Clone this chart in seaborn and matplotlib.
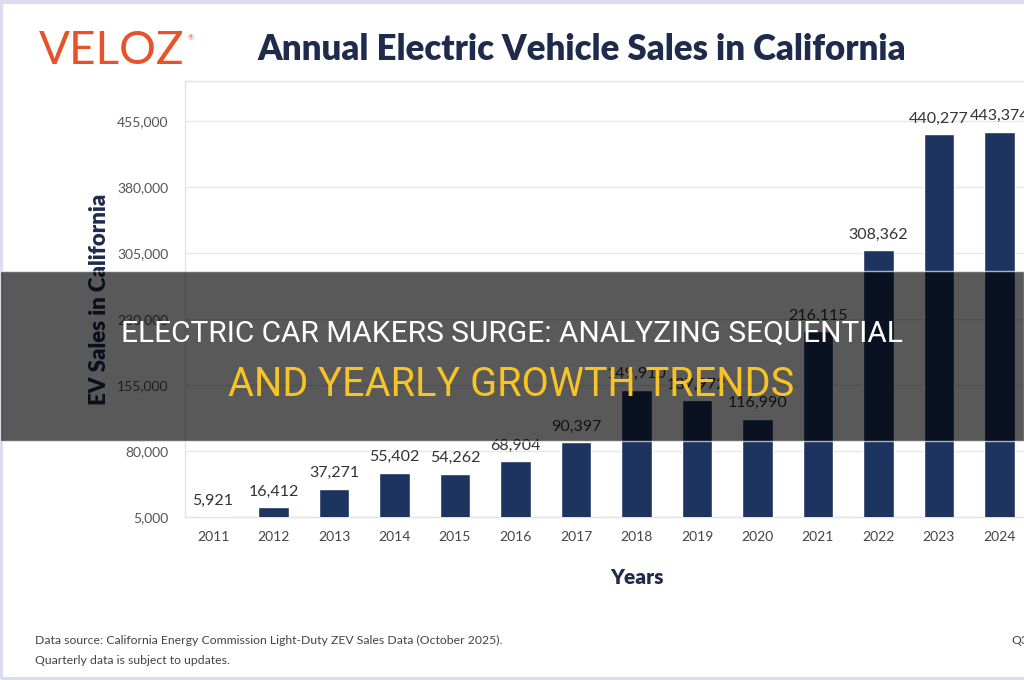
import matplotlib
matplotlib.use("Agg")
import matplotlib.pyplot as plt
from matplotlib.patches import Rectangle
import seaborn as sns

# Annual EV sales in California
years = ["2011", "2012", "2013", "2014", "2015", "2016", "2017",
         "2018", "2019", "2020", "2021", "2022", "2023", "2024"]
sales = [5921, 16412, 37271, 55402, 54262, 68904, 90397,
         149910, 137972, 116990, 216115, 308362, 440277, 443374]
y_ticks = [5000, 80000, 155000, 230000, 305000, 380000, 455000]

navy = "#1e3460"
text_navy = "#1f2b4d"

sns.set_theme(style="white")
plt.rcParams["font.family"] = ["Lato", "DejaVu Sans"]

W, H = 1024, 680
fig = plt.figure(figsize=(W / 100, H / 100), dpi=100)
fig.patch.set_facecolor("white")

# Plot area
ax_left, ax_top, ax_bottom, ax_right = 185, 81, 517, 1075
ax = fig.add_axes([ax_left / W, 1 - ax_bottom / H,
                   (ax_right - ax_left) / W, (ax_bottom - ax_top) / H])
sns.barplot(x=years, y=sales, color=navy, width=0.5, saturation=1, ax=ax, zorder=3)

ax.set_ylim(5000, 501000)
ax.set_xlim(-0.463, 14.25)
ax.set_yticks(y_ticks)
ax.set_yticklabels([f"{v:,}" for v in y_ticks])
ax.yaxis.grid(True, color="#e6e6ee", lw=1, zorder=0)
ax.set_axisbelow(True)
ax.tick_params(axis="y", length=0, pad=12, labelsize=10, labelcolor="#555555")
ax.tick_params(axis="x", length=0, pad=10, labelsize=10, labelcolor="#444444")
ax.set_xlabel("")
ax.set_ylabel("")
for side, sp in ax.spines.items():
    sp.set_color("#e2e2ea")
    sp.set_linewidth(1)

ax.bar_label(ax.containers[0], labels=[f"{v:,}" for v in sales],
             padding=6, fontsize=11.5, color="#333333")

# Axis titles
fig.text(100 / W, 1 - 299 / H, "EV Sales in California", rotation=90,
         ha="center", va="center", fontsize=16, fontweight="heavy", color=text_navy)
fig.text(637 / W, 1 - 578 / H, "Years", ha="center", va="center",
         fontsize=15, fontweight="heavy", color=text_navy)

# Header
fig.text(582 / W, 1 - 50 / H, "Annual Electric Vehicle Sales in California",
         ha="center", va="center", fontsize=25, fontweight="heavy", color=text_navy)
fig.text(39 / W, 1 - 51 / H, "VELOZ", ha="left", va="center",
         fontsize=33, color="#e8522b")
fig.text(188 / W, 1 - 38 / H, "®", ha="left", va="center",
         fontsize=5, color="#e8522b")

# Footer
fig.text(35 / W, 1 - 640 / H,
         "Data source: California Energy Commission Light-Duty ZEV Sales Data (October 2025).",
         ha="left", va="center", fontsize=8.8, color="#444444")
fig.text(35 / W, 1 - 661 / H, "Quarterly data is subject to updates.",
         ha="left", va="center", fontsize=8.8, color="#444444")
fig.text(1011 / W, 1 - 640 / H, "Q3", ha="left", va="center",
         fontsize=8.8, color="#444444")

# Image frame
frame = Rectangle((0.001, 0.002), 1.2, 0.995, transform=fig.transFigure,
                  fill=False, edgecolor="#dcdcf0", lw=3)
fig.add_artist(frame)

# Dark overlay banner
band = Rectangle((0, 1 - 441 / H), 1, 170 / H, transform=fig.transFigure,
                 facecolor="black", alpha=0.65, zorder=10)
fig.add_artist(band)
fig.text(512 / W, 1 - 334 / H, "ELECTRIC CAR MAKERS SURGE: ANALYZING SEQUENTIAL",
         ha="center", va="center", fontsize=21.5, color="white",
         family=["Roboto", "DejaVu Sans"], zorder=11)
fig.text(511 / W, 1 - 384 / H, "AND YEARLY GROWTH TRENDS",
         ha="center", va="center", fontsize=28.5, color="#f7c325",
         family=["Roboto", "DejaVu Sans"], zorder=11)

fig.savefig("out.png", dpi=100)
